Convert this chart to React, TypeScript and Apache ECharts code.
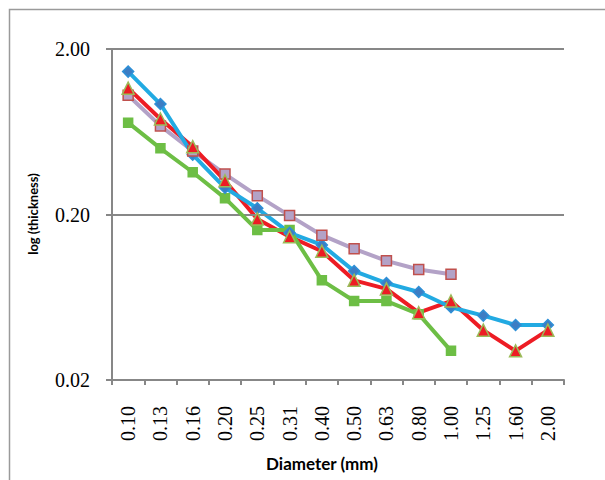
import React, { useEffect, useRef } from "react";
import * as echarts from "echarts";

const categories = ["0.10", "0.13", "0.16", "0.20", "0.25", "0.31", "0.40", "0.50", "0.63", "0.80", "1.00", "1.25", "1.60", "2.00"];
const blueValues = [1.46, 0.93, 0.46, 0.29, 0.218, 0.155, 0.131, 0.091, 0.077, 0.068, 0.055, 0.049, 0.043, 0.043];
const redValues = [1.16, 0.755, 0.514, 0.32, 0.188, 0.147, 0.12, 0.08, 0.071, 0.051, 0.06, 0.04, 0.03, 0.04];
const purpleValues = [1.05, 0.686, 0.484, 0.351, 0.26, 0.197, 0.15, 0.124, 0.105, 0.093, 0.087, null, null, null];
const greenValues = [0.718, 0.502, 0.36, 0.251, 0.161, 0.161, 0.08, 0.06, 0.06, 0.05, 0.03, null, null, null];
const yTicks = [0.02, 0.2, 2];

const AXIS_GRAY = "#878787";

export default function App() {
  const ref = useRef<HTMLDivElement>(null);
  useEffect(() => {
    if (!ref.current) return;
    const chart = echarts.init(ref.current, null, { renderer: "svg" });

    const lineSeries = (data: (number | null)[], color: string, z: number) => ({
      type: "line",
      data,
      z,
      symbol: "none",
      lineStyle: { color, width: 4 },
      itemStyle: { color },
      silent: true,
    });
    const markerSeries = (
      data: (number | null)[],
      symbol: string,
      size: number,
      fill: string,
      border: string,
      z: number
    ) => ({
      type: "line",
      data,
      z,
      symbol,
      symbolSize: size,
      showAllSymbol: true,
      lineStyle: { width: 0, opacity: 0 },
      itemStyle: { color: fill, borderColor: border, borderWidth: 1.5 },
      silent: true,
    });

    chart.setOption({
      animation: false,
      grid: { left: 112, right: 41, top: 49, bottom: 100 },
      xAxis: {
        type: "category",
        data: categories,
        boundaryGap: true,
        axisLine: { show: true, lineStyle: { color: AXIS_GRAY, width: 2 } },
        axisTick: { show: true, length: 5, alignWithLabel: false, lineStyle: { color: AXIS_GRAY, width: 2 } },
        axisLabel: {
          rotate: 90,
          margin: 26,
          fontFamily: "Liberation Serif",
          fontSize: 20,
          color: "#000",
          interval: 0,
        },
        splitLine: { show: false },
      },
      yAxis: {
        type: "log",
        logBase: 10,
        min: yTicks[0],
        max: yTicks[yTicks.length - 1],
        axisLine: { show: true, onZero: false, lineStyle: { color: AXIS_GRAY, width: 2 } },
        axisTick: { show: true, length: 6, customValues: yTicks, lineStyle: { color: AXIS_GRAY, width: 2 } },
        axisLabel: {
          margin: 22,
          fontFamily: "Liberation Serif",
          fontSize: 20,
          color: "#000",
          customValues: yTicks,
          formatter: (v: number) => v.toFixed(2),
        },
        splitLine: { show: false },
        minorTick: { show: false },
      },
      graphic: [
        {
          type: "rect",
          shape: { x: 9.5, y: 9.5, width: 700, height: 600 },
          style: { fill: "none", stroke: "#9a9a9a", lineWidth: 1.5 },
          silent: true,
        },
        {
          type: "text",
          x: 33,
          y: 214,
          rotation: Math.PI / 2,
          style: {
            text: "log (thickness)",
            fontFamily: "Lato",
            fontWeight: "bold",
            fontSize: 13,
            fill: "#000",
            align: "center",
            verticalAlign: "middle",
          },
        },
        {
          type: "text",
          x: 322,
          y: 463,
          style: {
            text: "Diameter (mm)",
            fontFamily: "Lato",
            fontWeight: "bold",
            fontSize: 17,
            fill: "#000",
            align: "center",
            verticalAlign: "middle",
          },
        },
      ],
      series: [
        {
          type: "line",
          data: [],
          silent: true,
          markLine: {
            silent: true,
            symbol: "none",
            label: { show: false },
            lineStyle: { color: AXIS_GRAY, width: 2, type: "solid" },
            data: yTicks.slice(1).map((v) => ({ yAxis: v })),
          },
          z: 1,
        },
        lineSeries(purpleValues, "#B3A2C7", 2),
        lineSeries(redValues, "#ED1C24", 3),
        lineSeries(blueValues, "#22AAE2", 4),
        lineSeries(greenValues, "#6DBE45", 5),
        markerSeries(greenValues, "rect", 9, "#6DBE45", "#6DBE45", 10),
        markerSeries(blueValues, "diamond", 11, "#3D7DC3", "#2E8FD6", 11),
        markerSeries(purpleValues, "rect", 10, "#B3A2C7", "#C0504D", 12),
        markerSeries(redValues, "triangle", 12, "#ED1C24", "#9BBB59", 13),
      ],
    });
    return () => chart.dispose();
  }, []);

  return (
    <div
      ref={ref}
      style={{ position: "fixed", left: 0, top: 0, width: 605, height: 480, background: "#fff" }}
    />
  );
}
